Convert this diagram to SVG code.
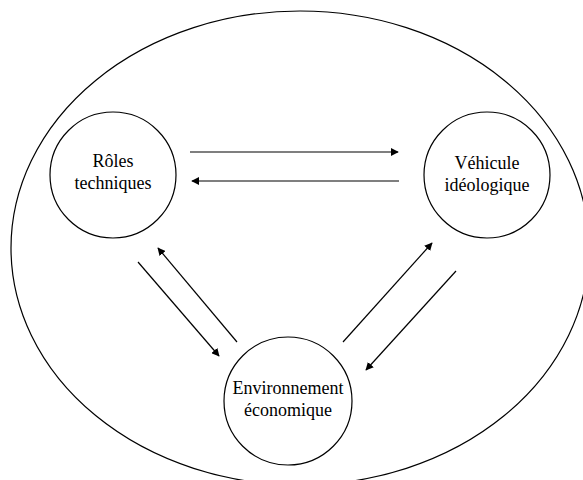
<svg xmlns="http://www.w3.org/2000/svg" width="583" height="480" viewBox="0 0 583 480">
<defs>
<style>
.shape{fill:none;stroke:#000;stroke-width:1.2}
.lbl{font-family:'Liberation Serif','DejaVu Serif','Times New Roman',serif;font-size:18px;fill:#000;text-anchor:middle}
.conn line{stroke:#000;stroke-width:1.2;marker-end:url(#ah)}
</style>
<marker id="ah" viewBox="0 0 10 10" refX="9" refY="5" markerWidth="8" markerHeight="8" markerUnits="userSpaceOnUse" orient="auto">
<path d="M0,0 L10,5 L0,10 Z" fill="#000"/>
</marker>
</defs>
<rect width="583" height="480" fill="#fff"/>
<g id="context"><ellipse class="shape" cx="300" cy="248" rx="289" ry="237"/></g>
<g id="roles">
<circle class="shape" cx="113" cy="175" r="63"/>
<text class="lbl" font-family="Liberation Serif, serif" x="113" y="167">Rôles</text>
<text class="lbl" font-family="Liberation Serif, serif" x="113" y="189">techniques</text>
</g>
<g id="vehicule">
<circle class="shape" cx="487" cy="175" r="63"/>
<text class="lbl" font-family="Liberation Serif, serif" x="487" y="169">Véhicule</text>
<text class="lbl" font-family="Liberation Serif, serif" x="487" y="191">idéologique</text>
</g>
<g id="environnement">
<circle class="shape" cx="288" cy="401" r="64"/>
<text class="lbl" font-family="Liberation Serif, serif" x="288" y="394">Environnement</text>
<text class="lbl" font-family="Liberation Serif, serif" x="288" y="416">économique</text>
</g>
<g id="connectors" class="conn">
<line x1="190" y1="152" x2="398" y2="152"/>
<line x1="399" y1="181" x2="192" y2="181"/>
<line x1="138" y1="262" x2="219" y2="356"/>
<line x1="237" y1="342" x2="158" y2="248"/>
<line x1="343" y1="342" x2="432" y2="243"/>
<line x1="456" y1="271" x2="366" y2="370"/>
</g>
</svg>
